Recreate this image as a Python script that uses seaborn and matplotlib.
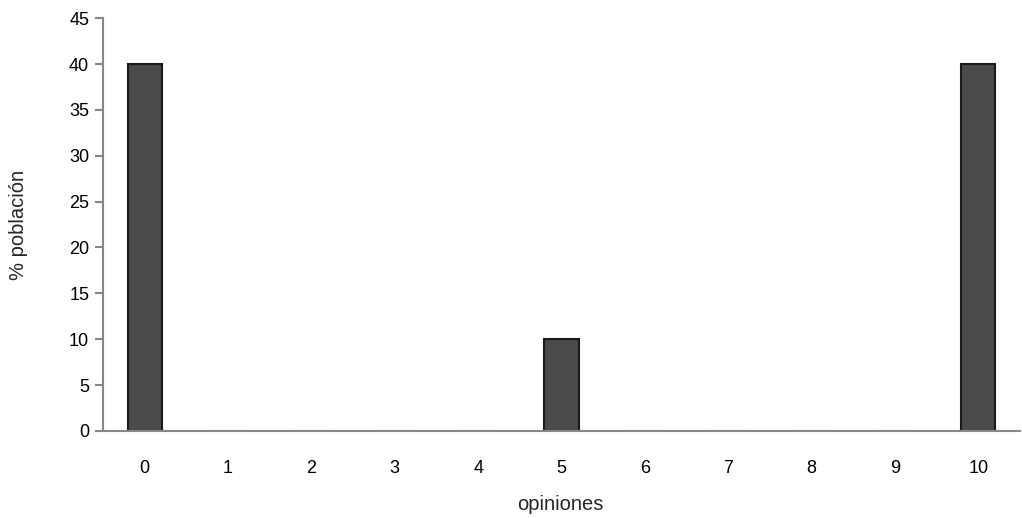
import matplotlib
matplotlib.use("Agg")
import matplotlib.pyplot as plt
import seaborn as sns
import pandas as pd
import numpy as np

categories = ["0", "1", "2", "3", "4", "5", "6", "7", "8", "9", "10"]
values = [40, 0, 0, 0, 0, 10, 0, 0, 0, 0, 40]
yticks = [0, 5, 10, 15, 20, 25, 30, 35, 40, 45]

sns.set_style("white")
plt.rcParams['font.family'] = ['Liberation Sans', 'DejaVu Sans']

df = pd.DataFrame({"opiniones": categories, "pct": values})

fig = plt.figure(figsize=(10.22, 5.18), dpi=100)
ax = fig.add_axes([0.1008, 0.168, 0.8972, 0.797])
sns.barplot(data=df, x="opiniones", y="pct", order=categories, color="#4a4a4a",
            width=0.41, edgecolor="#1a1a1a", linewidth=1.5, saturation=1, ax=ax)

ax.set_xlim(-0.5, 10.5)
ax.set_ylim(0, 45)
ax.set_yticks(yticks)
ax.set_yticklabels([str(t) for t in yticks])
ax.set_xticks(np.arange(-0.5, 11, 1), minor=True)
ax.tick_params(axis='x', which='major', length=0, pad=21, labelsize=13, colors='black')
ax.tick_params(axis='x', which='minor', length=6, width=1.5, color='#888888', direction='out')
ax.tick_params(axis='y', which='major', length=6, width=1.5, color='#888888', direction='out', labelsize=13, pad=4, left=True, labelcolor='black')

for s in ['top', 'right']:
    ax.spines[s].set_visible(False)
for s in ['left', 'bottom']:
    ax.spines[s].set_color('#888888')
    ax.spines[s].set_linewidth(1.5)

ax.set_xlabel("opiniones", fontsize=14.5)
ax.set_ylabel("% población", fontsize=14.5)
ax.xaxis.set_label_coords(0.499, -0.179)
ax.yaxis.set_label_coords(-0.0927, 0.5)
ax.xaxis.label.set_va('center')
ax.yaxis.label.set_va('center')

fig.savefig("out.png", dpi=100)
